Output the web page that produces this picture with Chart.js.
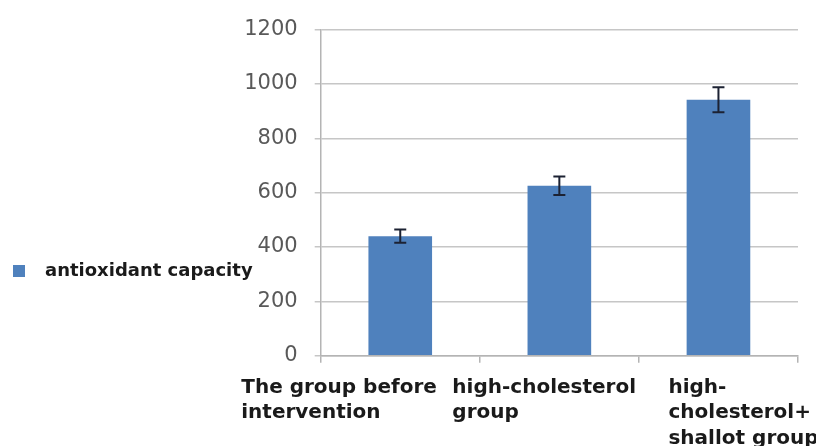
<!DOCTYPE html>
<html>
<head>
<meta charset="utf-8">
<script src="https://cdn.jsdelivr.net/npm/chart.js@4"></script>
<style>
  html, body { margin: 0; padding: 0; background: #fff; }
  #wrap { width: 816px; height: 446px; }
</style>
</head>
<body>
<div id="wrap"><canvas id="chart"></canvas></div>
<script>
const categories = [
  ["The group before", "intervention"],
  ["high-cholesterol", "group"],
  ["high-", "cholesterol+", "shallot group"],
];
const values = [440, 625, 942];
const errors = [24, 34, 46];
const yTicks = [0, 200, 400, 600, 800, 1000, 1200];
const seriesName = "antioxidant capacity";

const barColor = "#4f81bd";

// error bars drawn over each bar, using the y scale
const errorBars = {
  id: "errorBars",
  afterDatasetsDraw(chart) {
    const ctx = chart.ctx;
    const x = chart.scales.x;
    const y = chart.scales.y;
    ctx.save();
    ctx.strokeStyle = "#1c2233";
    ctx.lineWidth = 2;
    values.forEach((v, i) => {
      const px = x.getPixelForValue(i);
      const top = y.getPixelForValue(v + errors[i]);
      const bot = y.getPixelForValue(v - errors[i]);
      ctx.beginPath();
      ctx.moveTo(px, top);
      ctx.lineTo(px, bot);
      ctx.moveTo(px - 6, top);
      ctx.lineTo(px + 6, top);
      ctx.moveTo(px - 6, bot);
      ctx.lineTo(px + 6, bot);
      ctx.stroke();
    });
    ctx.restore();
  },
};

// category labels, left aligned and shifted like the original
const labelShift = [-159, -107, -50];
const xLabels = {
  id: "xLabels",
  afterDraw(chart) {
    const ctx = chart.ctx;
    const x = chart.scales.x;
    const base = chart.chartArea.bottom;
    ctx.save();
    ctx.font = "bold 20px 'DejaVu Sans'";
    ctx.fillStyle = "#1a1a1a";
    ctx.textAlign = "left";
    ctx.textBaseline = "alphabetic";
    categories.forEach((lines, i) => {
      const px = x.getPixelForValue(i) + labelShift[i];
      lines.forEach((t, j) => {
        ctx.fillText(t, px, base + 37 + j * 25.5);
      });
    });
    ctx.restore();
  },
};

// legend on the left side
const sideLegend = {
  id: "sideLegend",
  afterDraw(chart) {
    const ctx = chart.ctx;
    ctx.save();
    ctx.fillStyle = barColor;
    ctx.fillRect(13, 265, 12, 12);
    ctx.font = "bold 18px 'DejaVu Sans'";
    ctx.fillStyle = "#1a1a1a";
    ctx.textBaseline = "middle";
    ctx.fillText(seriesName, 45, 271);
    ctx.restore();
  },
};

new Chart(document.getElementById("chart"), {
  type: "bar",
  data: {
    labels: categories.map(c => c.join(" ")),
    datasets: [
      {
        label: seriesName,
        data: values,
        backgroundColor: barColor,
        borderWidth: 0,
        categoryPercentage: 1,
        barPercentage: 0.4,
      },
    ],
  },
  options: {
    responsive: true,
    maintainAspectRatio: false,
    animation: false,
    layout: { padding: { top: 26, right: 18, left: 0, bottom: 0 } },
    plugins: {
      legend: { display: false },
      tooltip: { enabled: false },
    },
    scales: {
      x: {
        offset: true,
        afterFit: (s) => { s.height = 90.3; },
        ticks: { display: false },
        grid: {
          offset: true,
          drawOnChartArea: false,
          drawTicks: true,
          tickLength: 7,
          color: "#b4b4b4",
          lineWidth: 1.5,
        },
        border: { color: "#b4b4b4", width: 1.5 },
      },
      y: {
        min: 0,
        max: 1200,
        afterFit: (s) => { s.width = 320.7; },
        afterBuildTicks: (s) => { s.ticks = yTicks.map(v => ({ value: v })); },
        ticks: {
          padding: 17,
          color: "#595959",
          font: { family: "DejaVu Sans", size: 21 },
          callback: (v) => String(v),
        },
        grid: {
          color: "#c6c6c6",
          lineWidth: 1.5,
          tickLength: 6,
        },
        border: { color: "#b4b4b4", width: 1.5 },
      },
    },
  },
  plugins: [errorBars, xLabels, sideLegend],
});
</script>
</body>
</html>
